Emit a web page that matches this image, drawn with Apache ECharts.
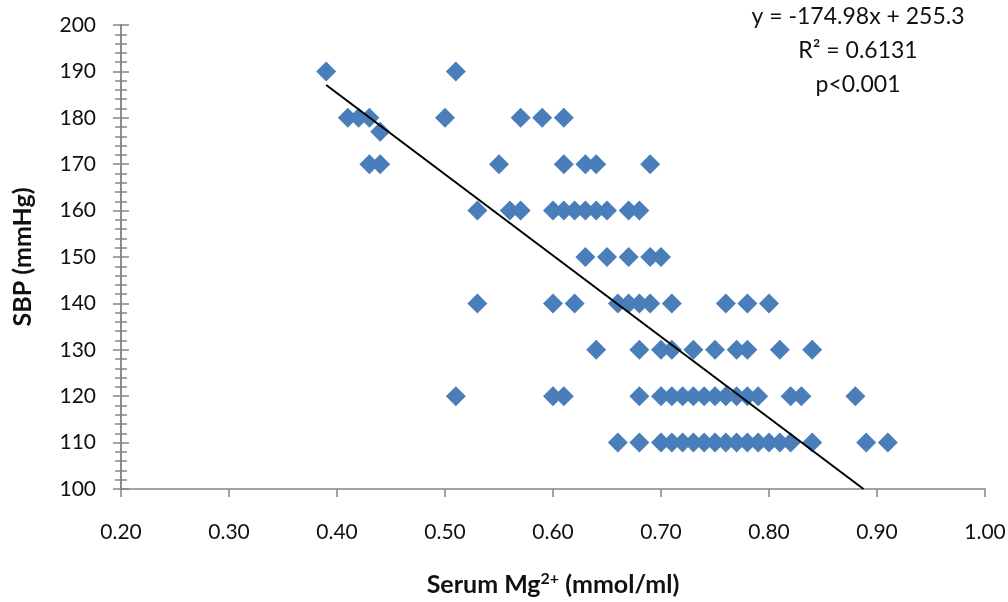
<!DOCTYPE html>
<html>
<head>
<meta charset="utf-8">
<script src="https://cdn.jsdelivr.net/npm/echarts@6/dist/echarts.min.js"></script>
<style>
html,body{margin:0;padding:0;background:#fff;}
#chart{width:1008px;height:602px;}
</style>
</head>
<body>
<div id="chart"></div>
<script>
// SBP levels and the serum Mg values of the points at each level
const sbpLevels = [190, 180, 177, 170, 160, 150, 140, 130, 120, 110];
const mg190 = [0.39, 0.51];
const mg180 = [0.41, 0.42, 0.43, 0.50, 0.57, 0.59, 0.61];
const mg177 = [0.44];
const mg170 = [0.43, 0.44, 0.55, 0.61, 0.63, 0.64, 0.69];
const mg160 = [0.53, 0.56, 0.57, 0.60, 0.61, 0.62, 0.63, 0.64, 0.65, 0.67, 0.68];
const mg150 = [0.63, 0.65, 0.67, 0.69, 0.70];
const mg140 = [0.53, 0.60, 0.62, 0.66, 0.67, 0.68, 0.69, 0.71, 0.76, 0.78, 0.80];
const mg130 = [0.64, 0.68, 0.70, 0.71, 0.73, 0.75, 0.77, 0.78, 0.81, 0.84];
const mg120 = [0.51, 0.60, 0.61, 0.68, 0.70, 0.71, 0.72, 0.73, 0.74, 0.75, 0.76, 0.77, 0.78, 0.79, 0.82, 0.83, 0.88];
const mg110 = [0.66, 0.68, 0.70, 0.71, 0.72, 0.73, 0.74, 0.75, 0.76, 0.77, 0.78, 0.79, 0.80, 0.81, 0.82, 0.84, 0.89, 0.91];
const mgByLevel = [mg190, mg180, mg177, mg170, mg160, mg150, mg140, mg130, mg120, mg110];

// Linear trend line endpoints (y = -174.98x + 255.3)
const trendX = [0.39, 0.8875];
const trendY = [187.06, 100];

const equationLines = ['y = -174.98x + 255.3', 'R\u00B2 = 0.6131', 'p<0.001'];

const points = [];
sbpLevels.forEach((lvl, i) => mgByLevel[i].forEach(x => points.push([x, lvl])));
const trend = trendX.map((x, i) => [x, trendY[i]]);

const FONT = 'Lato, "Open Sans", sans-serif';
const AXIS_GRAY = '#868686';

const chart = echarts.init(document.getElementById('chart'), null, {renderer: 'canvas'});
const yBase = {
  type: 'value', min: 100, max: 200, interval: 10, position: 'left',
  splitLine: {show: false},
  axisLine: {show: true, lineStyle: {color: AXIS_GRAY, width: 1.5}},
  minorTick: {show: true, splitNumber: 5, length: 6, lineStyle: {color: AXIS_GRAY, width: 1.5}},
  minorSplitLine: {show: false}
};
chart.setOption({
  animation: false,
  backgroundColor: '#fff',
  grid: {left: 121, right: 23, top: 25, bottom: 113, containLabel: false, outerBoundsMode: 'none'},
  xAxis: {
    type: 'value', min: 0.2, max: 1.0, interval: 0.1,
    splitLine: {show: false},
    axisLine: {show: true, onZero: false, lineStyle: {color: AXIS_GRAY, width: 1.5}},
    axisTick: {show: true, length: 8, lineStyle: {color: AXIS_GRAY, width: 1.5}},
    axisLabel: {margin: 33, color: '#111', fontSize: 21, fontFamily: FONT,
      formatter: v => v.toFixed(2)},
    name: '{b|Serum Mg}{s|2+}{b| (mmol/ml)}',
    nameLocation: 'middle', nameGap: 82,
    nameTextStyle: {
      rich: {
        b: {fontSize: 25, fontWeight: 'bold', fontFamily: FONT, color: '#111'},
        s: {fontSize: 16, fontWeight: 'bold', fontFamily: FONT, color: '#111', verticalAlign: 'top', padding: [0, 0, 12, 0]}
      }
    }
  },
  yAxis: [
    Object.assign({}, yBase, {
      axisTick: {show: true, length: 8, lineStyle: {color: AXIS_GRAY, width: 1.5}},
      axisLabel: {margin: 25, color: '#111', fontSize: 21, fontFamily: FONT},
      name: 'SBP (mmHg)', nameLocation: 'middle', nameGap: 86,
      nameTextStyle: {fontSize: 25, fontWeight: 'bold', fontFamily: FONT, color: '#111'}
    }),
    Object.assign({}, yBase, {
      axisTick: {show: true, inside: true, length: 8, lineStyle: {color: AXIS_GRAY, width: 1.5}},
      minorTick: {show: true, splitNumber: 5, length: 6, lineStyle: {color: AXIS_GRAY, width: 1.5}},
      axisLabel: {show: false}
    })
  ],
  series: [
    {
      type: 'scatter', xAxisIndex: 0, yAxisIndex: 0,
      data: points, symbol: 'diamond', symbolSize: 20,
      itemStyle: {color: '#4a7ebb', opacity: 1}
    },
    {
      type: 'line', xAxisIndex: 0, yAxisIndex: 0,
      data: trend, symbol: 'none',
      lineStyle: {color: '#000', width: 2}, z: 5
    }
  ],
  graphic: equationLines.map((t, i) => ({
    type: 'text', x: 858, y: 17 + i * 34,
    style: {text: t, fontSize: 23, fontFamily: FONT, fill: '#111', align: 'center', verticalAlign: 'middle'}
  }))
});
</script>
</body>
</html>
